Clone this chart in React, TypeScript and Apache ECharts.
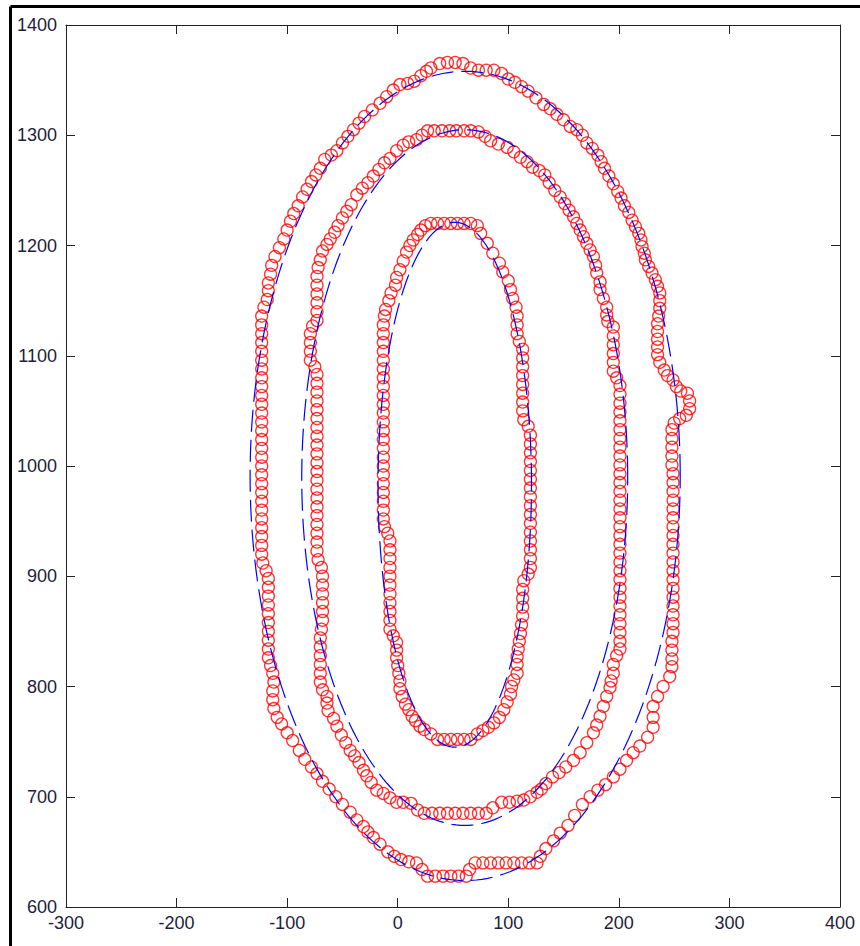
import React, { useEffect, useRef } from "react";
import * as echarts from "echarts";

// Tick definitions
const xMin = -300;
const xMax = 400;
const xStep = 100;
const yMin = 600;
const yMax = 1400;
const yStep = 100;

// Outer contour points (red circles)
const outerContour: number[][] = [
  [30,1361],[38,1365],[45,1366],[52,1366],[59,1365],[66,1361],[73,1359],[80,1359],[87,1359],[94,1356],[100,1351],[106,1348],[112,1344],[118,1340],[125,1334],[132,1328],[138,1324],[144,1319],[150,1314],[156,1308],[162,1305],[167,1300],[171,1293],[176,1288],[181,1282],[184,1276],[187,1270],[191,1263],[195,1256],[199,1249],[202,1243],[205,1236],[209,1230],[212,1223],[215,1217],[218,1211],[220,1205],[221,1199],[223,1193],[224,1187],[227,1181],[230,1175],[233,1169],[235,1163],[237,1157],[237,1150],[237,1143],[236,1136],[235,1129],[235,1122],[235,1115],[235,1108],[235,1101],[237,1094],[241,1087],[244,1082],[249,1078],[252,1072],[256,1068],[262,1066],[264,1059],[264,1052],[261,1046],[255,1043],[250,1039],[248,1033],
  [248,1025],[248,1017],[248,1009],[248,1001],[249,993],[249,985],[249,977],[249,969],[249,961],[249,953],[249,945],[249,937],[249,929],[249,921],[249,913],[249,905],[249,897],[249,889],[249,881],[249,873],[249,865],[249,857],[249,849],[248,841],[248,833],[248,825],[248,818],
  [246,809],[240,800],[235,791],[231,782],[231,772],[231,763],[226,754],[219,746],[213,740],[207,733],[201,725],[195,718],[188,711],[181,706],[174,700],[167,693],[160,683],[154,674],[147,667],[141,660],[134,653],[129,646],[126,640],
  [119,640],[112,640],[105,640],[98,640],[91,640],[84,640],[77,640],[70,640],[65,634],[62,628],[55,628],[48,628],[41,628],[34,628],[27,628],[22,634],[17,640],[10,641],[3,643],[-3,646],[-9,650],[-16,657],[-22,663],[-27,668],[-31,673],[-37,679],[-43,686],[-50,693],[-56,700],[-62,707],[-68,714],[-73,721],[-78,727],[-84,734],[-89,742],[-95,751],[-100,758],[-105,766],[-109,772],[-112,780],[-113,788],[-113,796],[-112,804],[-113,812],[-115,819],[-117,826],
  [-117,834],[-117,842],[-117,850],[-117,858],[-117,866],[-117,874],[-117,882],[-117,890],[-117,898],[-119,905],[-122,912],[-123,920],[-123,928],[-123,936],[-123,944],[-123,952],[-123,960],[-123,968],[-123,976],[-123,984],[-123,992],[-123,1000],[-123,1008],[-123,1016],[-123,1024],[-123,1032],[-123,1040],[-123,1048],[-123,1056],[-123,1064],[-123,1072],[-123,1080],[-123,1088],[-123,1096],[-123,1104],[-123,1112],[-123,1120],[-123,1128],[-123,1136],[-121,1144],[-118,1151],[-117,1159],[-117,1166],[-115,1174],[-114,1182],[-111,1190],[-107,1198],[-103,1206],[-100,1214],[-97,1222],[-94,1229],[-90,1236],[-86,1244],[-82,1251],[-78,1258],[-74,1264],[-70,1270],[-66,1278],[-60,1282],[-55,1286],[-50,1293],[-45,1299],[-40,1305],[-35,1311],[-30,1317],[-23,1323],[-16,1329],[-10,1335],[-4,1341],[2,1346],[9,1347],[15,1349],[21,1354],[26,1358],
];

// Middle contour points (red circles)
const middleContour: number[][] = [
  [27,1304],[33,1304],[40,1304],[47,1304],[53,1304],[60,1304],[66,1304],[73,1303],[79,1299],[84,1295],[91,1292],[99,1289],[105,1285],[111,1280],[117,1276],[122,1271],[128,1268],[133,1264],[137,1257],[142,1250],[147,1244],[151,1238],[155,1232],[159,1226],[162,1220],[165,1214],[168,1208],[171,1202],[174,1196],[177,1190],[179,1182],[180,1175],[183,1167],[183,1160],[186,1152],[189,1144],[189,1137],[190,1131],[195,1126],[195,1118],[195,1110],[195,1102],[195,1094],[195,1086],[198,1080],[201,1073],
  [201,1065],[201,1057],[201,1049],[201,1041],[201,1033],[201,1025],[201,1017],[201,1009],[201,1001],[201,993],[201,985],[201,977],[201,969],[201,961],[201,953],[201,945],[201,937],[201,929],[201,921],[201,913],[201,905],[201,897],[201,889],[201,881],[201,873],[201,865],[201,857],[201,849],[201,841],[201,834],
  [198,828],[195,820],[195,812],[193,805],[192,799],[189,791],[186,782],[183,773],[180,765],[177,758],[171,749],[165,740],[159,733],[152,727],[146,722],[140,718],[134,712],[130,707],[126,704],[120,700],[114,697],[108,696],[101,695],[94,695],[86,690],[80,685],[73,685],[66,685],[59,685],[52,685],[45,685],[38,685],[31,685],[24,685],[18,688],[12,694],[5,695],[-1,695],[-7,699],[-13,703],[-19,706],[-24,713],[-28,719],[-31,724],[-35,731],[-39,737],[-43,742],[-47,749],[-51,756],[-55,764],[-58,771],[-63,778],[-64,785],[-64,791],[-68,797],[-70,804],
  [-70,812],[-70,820],[-70,828],[-70,836],[-70,844],[-69,852],[-68,860],[-68,868],[-68,876],[-68,884],[-68,892],[-68,900],[-69,908],[-72,915],[-73,923],[-73,931],[-73,939],[-73,947],[-73,955],[-73,963],[-73,971],[-73,979],[-73,987],[-73,995],[-73,1003],[-73,1011],[-73,1019],[-73,1027],[-73,1035],[-73,1043],[-73,1051],[-73,1059],[-73,1067],[-73,1075],[-73,1083],[-75,1090],[-79,1096],[-79,1104],[-79,1112],[-79,1120],[-77,1127],[-73,1132],[-73,1140],[-73,1148],[-73,1156],[-73,1164],[-73,1172],[-72,1180],[-70,1187],[-68,1195],[-64,1201],[-61,1206],[-57,1212],[-54,1218],[-50,1225],[-46,1231],[-42,1237],[-37,1246],[-32,1252],[-27,1257],[-22,1263],[-17,1269],[-12,1275],[-7,1279],[-1,1286],[5,1291],[10,1294],[17,1296],[22,1300],
];

// Inner contour points (red circles)
const innerContour: number[][] = [
  [30,1220],[36,1220],[42,1220],[48,1220],[54,1220],[60,1220],[66,1220],[72,1218],[75,1211],[81,1202],[86,1193],[92,1184],[95,1176],[100,1168],[102,1160],[104,1152],[107,1144],[108,1136],[108,1128],[108,1120],[110,1113],[113,1106],[113,1098],[113,1090],[113,1082],[113,1074],[113,1066],[113,1058],[113,1050],[114,1042],[118,1036],
  [120,1028],[120,1020],[120,1012],[120,1004],[120,996],[120,988],[120,980],[120,972],[120,964],[120,956],[120,948],[120,940],[120,932],[120,924],[120,916],[120,908],[118,902],[114,896],[113,888],[113,880],[113,872],[113,864],[112,856],[111,848],[110,841],[109,834],[108,827],[108,820],[108,812],[105,806],[103,800],[102,793],[99,786],[96,779],[92,772],[87,767],[82,763],[77,760],[72,757],[66,752],[60,752],[54,752],[48,752],[42,752],[36,752],[30,757],[24,761],[20,764],[16,769],[13,773],[10,779],[7,784],[4,791],[2,798],[2,805],[1,812],[0,819],[-1,826],[-1,833],[-1,840],[-4,846],[-7,852],[-7,860],[-7,868],[-7,876],[-7,884],[-7,892],[-7,900],[-7,908],[-7,916],[-7,924],[-7,932],[-9,939],[-12,945],
  [-13,952],[-13,960],[-13,968],[-13,976],[-13,984],[-13,992],[-13,1000],[-13,1008],[-13,1016],[-13,1024],[-13,1032],[-13,1040],[-13,1048],[-13,1056],[-13,1064],[-13,1072],[-13,1080],[-13,1088],[-13,1096],[-13,1104],[-13,1112],[-13,1120],[-13,1128],[-12,1136],[-11,1142],[-8,1150],[-6,1157],[-2,1164],[-1,1171],[2,1178],[5,1186],[8,1194],[11,1200],[14,1205],[18,1210],[21,1214],[25,1218],
];

// Fitted ellipses (blue dashed): outer, middle, inner
const ellipseCenterX = [61, 60.6, 51.6];
const ellipseCenterY = [991, 989.5, 983];
const ellipseRadiusX = [194.5, 147.4, 69.4];
const ellipseRadiusY = [367, 315.5, 238];

function ellipsePoints(i: number): number[][] {
  const pts: number[][] = [];
  const n = 240;
  for (let k = 0; k <= n; k++) {
    const t = (k / n) * Math.PI * 2;
    pts.push([
      ellipseCenterX[i] + ellipseRadiusX[i] * Math.cos(t),
      ellipseCenterY[i] + ellipseRadiusY[i] * Math.sin(t),
    ]);
  }
  return pts;
}

const AXIS_COLOR = "#222";
const LABEL_COLOR = "#231c3c";
const FONT = "'Liberation Sans', Arial, sans-serif";

export default function App() {
  const ref = useRef<HTMLDivElement>(null);

  useEffect(() => {
    document.body.style.margin = "0";
    if (!ref.current) return;
    const chart = echarts.init(ref.current, undefined, { renderer: "svg" });

    const axisCommon = {
      type: "value" as const,
      axisLine: { show: true, onZero: false, lineStyle: { color: AXIS_COLOR, width: 1 } },
      axisTick: { show: true, inside: true, length: 9, lineStyle: { color: AXIS_COLOR, width: 1 } },
      splitLine: { show: false },
    };

    const labelCommon = {
      fontSize: 18,
      fontFamily: FONT,
      color: LABEL_COLOR,
      showMinLabel: true,
      showMaxLabel: true,
      formatter: (v: number) => String(v),
    };

    const scatterStyle = {
      type: "scatter" as const,
      symbol: "circle",
      symbolSize: 12,
      itemStyle: { color: "rgba(0,0,0,0)", borderColor: "#ff0000", borderWidth: 1.3 },
      silent: true,
      z: 2,
    };

    const lineStyle = {
      type: "line" as const,
      showSymbol: false,
      symbol: "none",
      smooth: false,
      lineStyle: { color: "#0000ff", width: 1.2, type: [22, 8] },
      silent: true,
      z: 3,
    };

    chart.setOption({
      animation: false,
      backgroundColor: "#ffffff",
      grid: { left: 66, top: 25, width: 774, height: 882 },
      xAxis: [
        {
          ...axisCommon,
          min: xMin,
          max: xMax,
          interval: xStep,
          position: "bottom",
          axisLabel: { ...labelCommon, margin: 7 },
        },
        {
          ...axisCommon,
          min: xMin,
          max: xMax,
          interval: xStep,
          position: "top",
          axisLabel: { show: false },
        },
      ],
      yAxis: [
        {
          ...axisCommon,
          min: yMin,
          max: yMax,
          interval: yStep,
          position: "left",
          axisLabel: { ...labelCommon, margin: 9 },
        },
        {
          ...axisCommon,
          min: yMin,
          max: yMax,
          interval: yStep,
          position: "right",
          axisLabel: { show: false },
        },
      ],
      graphic: [
        {
          type: "line",
          shape: { x1: 10.5, y1: 6.5, x2: 860, y2: 6.5 },
          style: { stroke: "#000", lineWidth: 3 },
        },
        {
          type: "line",
          shape: { x1: 10.5, y1: 6.5, x2: 10.5, y2: 946 },
          style: { stroke: "#000", lineWidth: 3 },
        },
      ],
      series: [
        { ...scatterStyle, name: "outer", data: outerContour },
        { ...scatterStyle, name: "middle", data: middleContour },
        { ...scatterStyle, name: "inner", data: innerContour },
        { ...lineStyle, name: "fitOuter", data: ellipsePoints(0) },
        { ...lineStyle, name: "fitMiddle", data: ellipsePoints(1) },
        { ...lineStyle, name: "fitInner", data: ellipsePoints(2) },
      ],
    });

    return () => {
      chart.dispose();
    };
  }, []);

  return <div ref={ref} style={{ width: 860, height: 946 }} />;
}
